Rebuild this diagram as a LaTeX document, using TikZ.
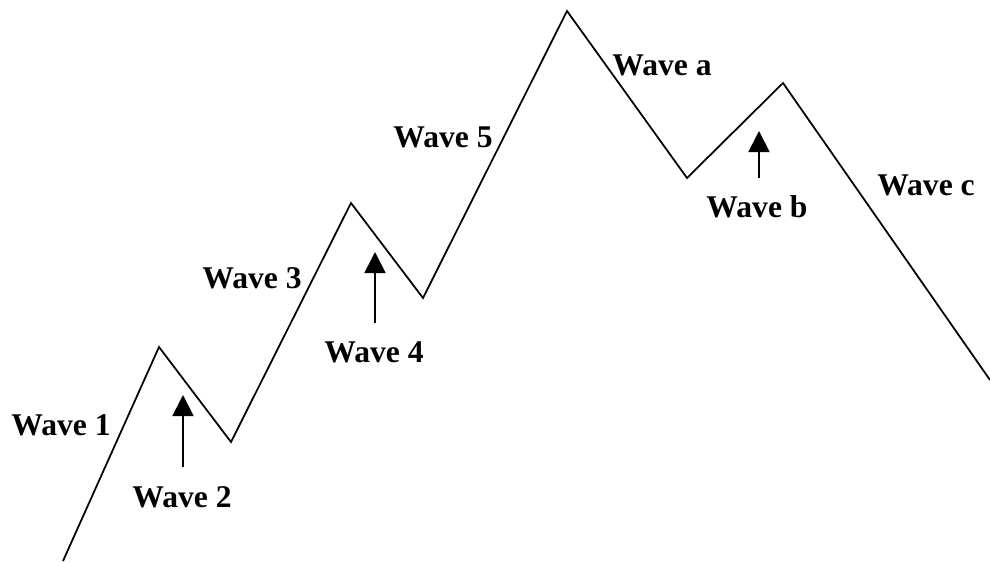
\documentclass[tikz,border=0pt]{standalone}
\usepackage{fontspec}
\setmainfont{Liberation Serif}
\usetikzlibrary{arrows.meta}

\begin{document}
\begin{tikzpicture}[x=0.02cm,y=-0.02cm,
  wave/.style={font=\bfseries\fontsize{18}{20}\selectfont,inner sep=0pt},
  line/.style={line width=1pt,line join=miter},
  up/.style={-{Triangle[length=12pt,width=12pt]},line width=1pt}]
\useasboundingbox (0,0) rectangle (990,562);
% turning points of the zigzag
\coordinate (p0) at (63,561);
\coordinate (p1) at (159,347);
\coordinate (p2) at (231,442);
\coordinate (p3) at (351,203);
\coordinate (p4) at (423,298);
\coordinate (p5) at (567,11);
\coordinate (p6) at (687,178);
\coordinate (p7) at (783,83);
\coordinate (p8) at (990,380);
\draw[line] (p0) -- (p1) -- (p2) -- (p3) -- (p4) -- (p5) -- (p6) -- (p7) -- (p8);
% labels
\node[wave] (w1) at (61,425) {Wave 1};
\node[wave] (w2) at (182,497) {Wave 2};
\node[wave] (w3) at (252,278) {Wave 3};
\node[wave] (w4) at (374,352) {Wave 4};
\node[wave] (w5) at (443,137) {Wave 5};
\node[wave] (wa) at (662,65) {Wave a};
\node[wave] (wb) at (757,207) {Wave b};
\node[wave] (wc) at (926,185) {Wave c};
% arrows under the corrections
\coordinate (t2) at (183,467); \coordinate (h2) at (183,395);
\coordinate (t4) at (375,323); \coordinate (h4) at (375,252);
\coordinate (tb) at (759,178); \coordinate (hb) at (759,131);
\foreach \n in {2,4,b}{\draw[up] (t\n) -- (h\n);}
\end{tikzpicture}
\end{document}
